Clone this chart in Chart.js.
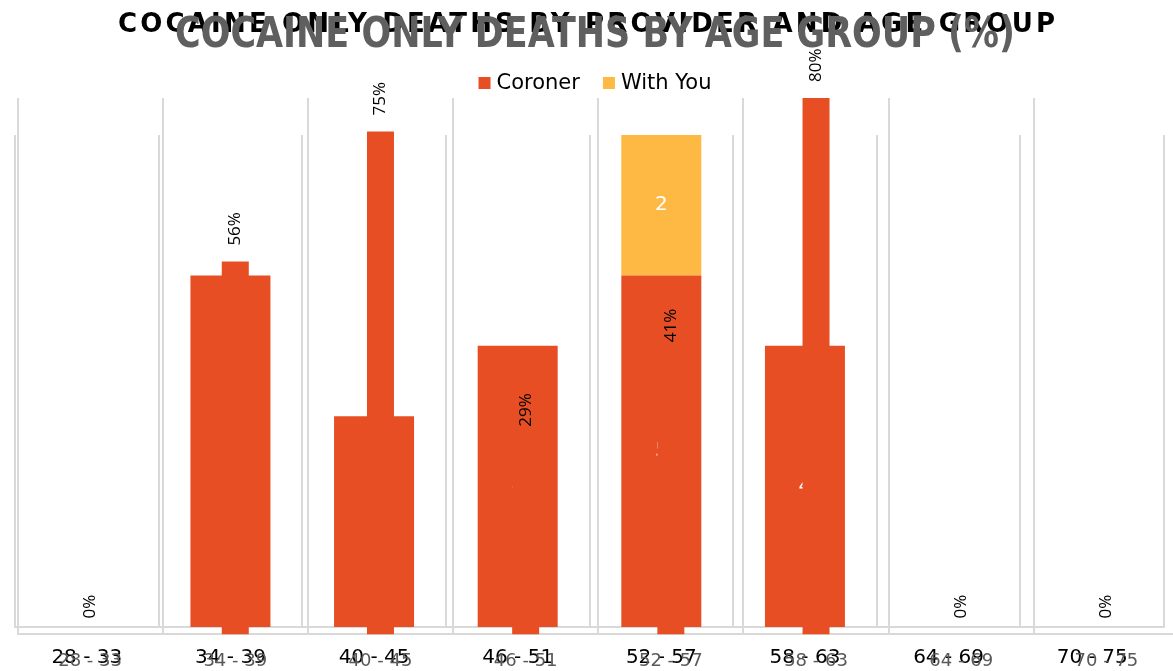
<!DOCTYPE html>
<html>
<head>
<meta charset="utf-8">
<title>Cocaine only deaths</title>
<script src="https://cdn.jsdelivr.net/npm/chart.js@4.4.1/dist/chart.umd.min.js"></script>
<style>
    html, body { margin: 0; padding: 0; background: #ffffff; overflow: hidden; }
    #wrap { position: relative; width: 1173px; height: 671px; overflow: hidden; }
    canvas { position: absolute; left: 0; top: 0; }
</style>
</head>
<body>
<div id="wrap">
    <canvas id="provider-chart" width="1173" height="691"></canvas>
    <canvas id="percent-chart" width="1190" height="689"></canvas>
</div>
<script>
// Data
const ageGroups = ['28 - 33', '34 - 39', '40 - 45', '46 - 51', '52 - 57', '58 - 63', '64 - 69', '70 - 75'];
const coronerDeaths = [0, 5, 3, 4, 5, 4, 0, 0];
const withYouDeaths = [0, 0, 0, 0, 2, 0, 0, 0];
const pctByAge = [0, 55.6, 75, 28.6, 41.2, 80, 0, 0];

const ORANGE = '#E84E24';
const YELLOW = '#FDB943';
const GRID = '#d9d9d9';
const FONT = 'DejaVu Sans';

// Title drawn by hand so we can track / squeeze the letters
const titlePlugin = {
    id: 'customTitle',
    afterDraw(chart, args, opts) {
        if (!opts.text) return;
        const ctx = chart.ctx;
        ctx.save();
        ctx.font = opts.font;
        ctx.fillStyle = opts.color;
        ctx.textBaseline = 'middle';
        ctx.textAlign = 'left';
        const w0 = ctx.measureText(opts.text).width;
        if (opts.mode === 'spacing') {
            const sp = (opts.width - w0) / (opts.text.length - 1);
            ctx.letterSpacing = sp + 'px';
            ctx.fillText(opts.text, opts.x, opts.y);
        } else {
            ctx.translate(opts.x, opts.y);
            ctx.scale(opts.width / w0, 1);
            ctx.fillText(opts.text, 0, 0);
        }
        ctx.restore();
    }
};

// Simple legend for the provider chart
const legendPlugin = {
    id: 'customLegend',
    afterDraw(chart, args, opts) {
        if (!opts.display) return;
        const ctx = chart.ctx;
        ctx.save();
        ctx.font = opts.font;
        ctx.textBaseline = 'middle';
        const items = chart.data.datasets.map(ds => ({
            label: ds.label, color: ds.backgroundColor, w: ctx.measureText(ds.label).width
        }));
        const box = 12, gap = 6, itemGap = 23;
        let total = 0;
        items.forEach((it, i) => { total += box + gap + it.w + (i ? itemGap : 0); });
        let x = opts.centerX - total / 2;
        items.forEach(it => {
            ctx.fillStyle = it.color;
            ctx.fillRect(x, opts.y - box / 2, box, box);
            ctx.fillStyle = '#000';
            ctx.fillText(it.label, x + box + gap, opts.y + 1);
            x += box + gap + it.w + itemGap;
        });
        ctx.restore();
    }
};

// Value labels for bars
const valueLabelPlugin = {
    id: 'valueLabels',
    afterDatasetsDraw(chart, args, opts) {
        const ctx = chart.ctx;
        ctx.save();
        ctx.font = opts.font;
        ctx.fillStyle = opts.color;
        chart.data.datasets.forEach((ds, di) => {
            const meta = chart.getDatasetMeta(di);
            meta.data.forEach((bar, i) => {
                const v = ds.data[i];
                if (opts.rotated) {
                    const txt = Math.round(v) + '%';
                    const w = ctx.measureText(txt).width;
                    ctx.save();
                    ctx.translate(bar.x, bar.y - opts.offset - w / 2);
                    ctx.rotate(-Math.PI / 2);
                    ctx.textAlign = 'center';
                    ctx.textBaseline = 'middle';
                    ctx.fillText(txt, 0, 0);
                    ctx.restore();
                } else {
                    if (!v) return;
                    ctx.textAlign = 'center';
                    ctx.textBaseline = 'middle';
                    ctx.fillText(String(v), bar.x, (bar.y + bar.base) / 2);
                }
            });
        });
        ctx.restore();
    }
};

// Chart 1: deaths by provider (stacked, wide bars)
new Chart(document.getElementById('provider-chart'), {
    type: 'bar',
    data: {
        labels: ageGroups,
        datasets: [
            { label: 'Coroner', data: coronerDeaths, backgroundColor: ORANGE, barPercentage: 0.557, categoryPercentage: 1 },
            { label: 'With You', data: withYouDeaths, backgroundColor: YELLOW, barPercentage: 0.557, categoryPercentage: 1 }
        ]
    },
    options: {
        responsive: false,
        animation: false,
        layout: { padding: { top: 135, left: 15, right: 9, bottom: 2 } },
        plugins: {
            legend: { display: false },
            title: { display: false },
            tooltip: { enabled: false },
            customTitle: {
                text: 'COCAINE ONLY DEATHS BY PROVIDER AND AGE GROUP',
                font: 'bold 26px ' + FONT, color: '#000', mode: 'spacing',
                x: 118, y: 25, width: 937
            },
            customLegend: { display: true, font: '21px ' + FONT, centerX: 595, y: 83 },
            valueLabels: { font: '20px ' + FONT, color: '#ffffff', rotated: false }
        },
        scales: {
            x: {
                stacked: true,
                grid: { offset: true, color: GRID, lineWidth: 2, drawTicks: false },
                border: { color: GRID, width: 2 },
                ticks: { color: '#000', font: { family: FONT, size: 20 }, padding: 19 }
            },
            y: { stacked: true, display: false, min: 0, max: 7 }
        }
    },
    plugins: [titlePlugin, legendPlugin, valueLabelPlugin]
});

// Chart 2: deaths by age group (%), narrow bars on top
new Chart(document.getElementById('percent-chart'), {
    type: 'bar',
    data: {
        labels: ageGroups,
        datasets: [
            { label: '%', data: pctByAge, backgroundColor: ORANGE, barPercentage: 0.186, categoryPercentage: 1 }
        ]
    },
    options: {
        responsive: false,
        animation: false,
        layout: { padding: { top: 98, left: 17.5, right: 11, bottom: 1 } },
        plugins: {
            legend: { display: false },
            title: { display: false },
            tooltip: { enabled: false },
            customTitle: {
                text: 'COCAINE ONLY DEATHS BY AGE GROUP (%)',
                font: 'bold 42px ' + FONT, color: '#5f5f5f', mode: 'scale',
                x: 175, y: 36, width: 840
            },
            valueLabels: { font: '17px "Open Sans"', color: '#000', rotated: true, offset: 16 }
        },
        scales: {
            x: {
                grid: { offset: true, color: GRID, lineWidth: 2, drawTicks: false },
                border: { color: GRID, width: 2 },
                ticks: { color: '#595959', font: { family: FONT, size: 18 }, padding: 16 }
            },
            y: { display: false, min: 0, max: 80 }
        }
    },
    plugins: [titlePlugin, valueLabelPlugin]
});
</script>
</body>
</html>
